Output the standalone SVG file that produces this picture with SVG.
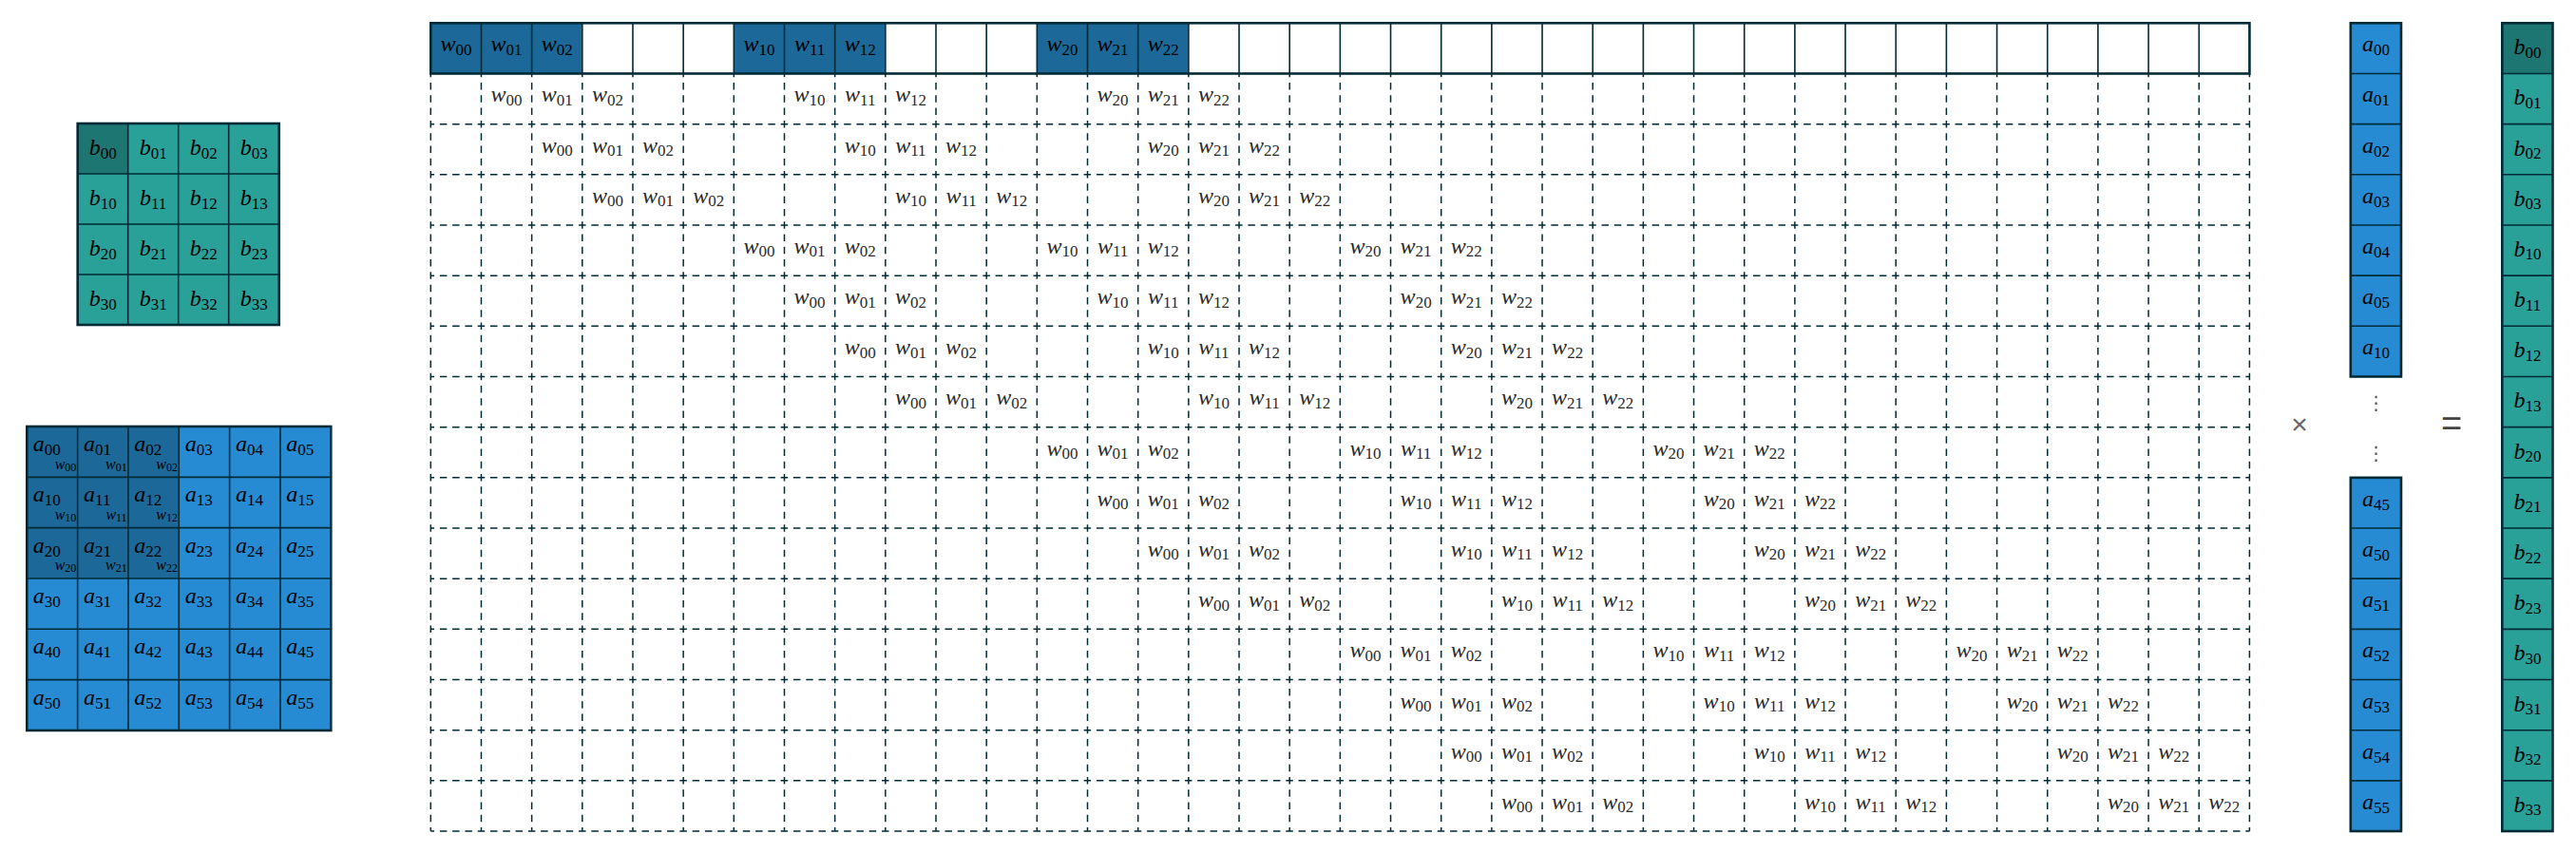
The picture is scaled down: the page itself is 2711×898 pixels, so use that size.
<svg xmlns="http://www.w3.org/2000/svg" width="2711" height="898" viewBox="0 0 2711 898">
<style>
.ln{fill:none;stroke:#002b36;stroke-width:1.6}
.ob{fill:none;stroke:#002b36;stroke-width:2.6}
.dash{fill:none;stroke:#002b36;stroke-width:1.5;stroke-dasharray:7.5 5.79;stroke-dashoffset:3.75}
.t{font-family:"Liberation Serif","DejaVu Serif",serif;font-size:24px;fill:#000}
.c{text-anchor:middle}
.e{text-anchor:end}
.i{font-style:italic}
.s{font-size:17px}
.g{fill:#2a2a2a}
.m{font-size:16px}
.ms{font-size:12px}
.op{font-family:"Liberation Sans","DejaVu Sans",sans-serif;text-anchor:middle}
</style>
<rect width="2711" height="898" fill="#fff"/>

<g id="output-grid">
<rect x="81.7" y="130" width="212" height="212" fill="#2aa198"/>
<rect x="81.7" y="130" width="53" height="53" fill="#1d7672"/>
<path class="ln" d="M134.7 130V342M187.7 130V342M240.7 130V342M81.7 183H293.7M81.7 236H293.7M81.7 289H293.7"/>
<rect class="ob" x="81.7" y="130" width="212" height="212"/>
<g class="t c">
<text x="108.2" y="163"><tspan class="i">b</tspan><tspan class="s" dy="3.5">00</tspan></text>
<text x="161.2" y="163"><tspan class="i">b</tspan><tspan class="s" dy="3.5">01</tspan></text>
<text x="214.2" y="163"><tspan class="i">b</tspan><tspan class="s" dy="3.5">02</tspan></text>
<text x="267.2" y="163"><tspan class="i">b</tspan><tspan class="s" dy="3.5">03</tspan></text>
<text x="108.2" y="216"><tspan class="i">b</tspan><tspan class="s" dy="3.5">10</tspan></text>
<text x="161.2" y="216"><tspan class="i">b</tspan><tspan class="s" dy="3.5">11</tspan></text>
<text x="214.2" y="216"><tspan class="i">b</tspan><tspan class="s" dy="3.5">12</tspan></text>
<text x="267.2" y="216"><tspan class="i">b</tspan><tspan class="s" dy="3.5">13</tspan></text>
<text x="108.2" y="269"><tspan class="i">b</tspan><tspan class="s" dy="3.5">20</tspan></text>
<text x="161.2" y="269"><tspan class="i">b</tspan><tspan class="s" dy="3.5">21</tspan></text>
<text x="214.2" y="269"><tspan class="i">b</tspan><tspan class="s" dy="3.5">22</tspan></text>
<text x="267.2" y="269"><tspan class="i">b</tspan><tspan class="s" dy="3.5">23</tspan></text>
<text x="108.2" y="322"><tspan class="i">b</tspan><tspan class="s" dy="3.5">30</tspan></text>
<text x="161.2" y="322"><tspan class="i">b</tspan><tspan class="s" dy="3.5">31</tspan></text>
<text x="214.2" y="322"><tspan class="i">b</tspan><tspan class="s" dy="3.5">32</tspan></text>
<text x="267.2" y="322"><tspan class="i">b</tspan><tspan class="s" dy="3.5">33</tspan></text>
</g>
</g>

<g id="input-grid">
<rect x="28.3" y="449" width="319.98" height="319.98" fill="#268bd2"/>
<rect x="28.3" y="449" width="159.99" height="159.99" fill="#1b6899"/>
<path class="ln" d="M81.63 449V768.98M134.96 449V768.98M188.29 449V768.98M241.62 449V768.98M294.95 449V768.98M28.3 502.33H348.28M28.3 555.66H348.28M28.3 608.99H348.28M28.3 662.32H348.28M28.3 715.65H348.28"/>
<rect class="ob" x="28.3" y="449" width="319.98" height="319.98"/>
<g class="t">
<text x="34.7" y="475"><tspan class="i">a</tspan><tspan class="s" dy="4">00</tspan></text>
<text x="88.03" y="475"><tspan class="i">a</tspan><tspan class="s" dy="4">01</tspan></text>
<text x="141.36" y="475"><tspan class="i">a</tspan><tspan class="s" dy="4">02</tspan></text>
<text x="194.69" y="475"><tspan class="i">a</tspan><tspan class="s" dy="4">03</tspan></text>
<text x="248.02" y="475"><tspan class="i">a</tspan><tspan class="s" dy="4">04</tspan></text>
<text x="301.35" y="475"><tspan class="i">a</tspan><tspan class="s" dy="4">05</tspan></text>
<text x="34.7" y="528.33"><tspan class="i">a</tspan><tspan class="s" dy="4">10</tspan></text>
<text x="88.03" y="528.33"><tspan class="i">a</tspan><tspan class="s" dy="4">11</tspan></text>
<text x="141.36" y="528.33"><tspan class="i">a</tspan><tspan class="s" dy="4">12</tspan></text>
<text x="194.69" y="528.33"><tspan class="i">a</tspan><tspan class="s" dy="4">13</tspan></text>
<text x="248.02" y="528.33"><tspan class="i">a</tspan><tspan class="s" dy="4">14</tspan></text>
<text x="301.35" y="528.33"><tspan class="i">a</tspan><tspan class="s" dy="4">15</tspan></text>
<text x="34.7" y="581.66"><tspan class="i">a</tspan><tspan class="s" dy="4">20</tspan></text>
<text x="88.03" y="581.66"><tspan class="i">a</tspan><tspan class="s" dy="4">21</tspan></text>
<text x="141.36" y="581.66"><tspan class="i">a</tspan><tspan class="s" dy="4">22</tspan></text>
<text x="194.69" y="581.66"><tspan class="i">a</tspan><tspan class="s" dy="4">23</tspan></text>
<text x="248.02" y="581.66"><tspan class="i">a</tspan><tspan class="s" dy="4">24</tspan></text>
<text x="301.35" y="581.66"><tspan class="i">a</tspan><tspan class="s" dy="4">25</tspan></text>
<text x="34.7" y="634.99"><tspan class="i">a</tspan><tspan class="s" dy="4">30</tspan></text>
<text x="88.03" y="634.99"><tspan class="i">a</tspan><tspan class="s" dy="4">31</tspan></text>
<text x="141.36" y="634.99"><tspan class="i">a</tspan><tspan class="s" dy="4">32</tspan></text>
<text x="194.69" y="634.99"><tspan class="i">a</tspan><tspan class="s" dy="4">33</tspan></text>
<text x="248.02" y="634.99"><tspan class="i">a</tspan><tspan class="s" dy="4">34</tspan></text>
<text x="301.35" y="634.99"><tspan class="i">a</tspan><tspan class="s" dy="4">35</tspan></text>
<text x="34.7" y="688.32"><tspan class="i">a</tspan><tspan class="s" dy="4">40</tspan></text>
<text x="88.03" y="688.32"><tspan class="i">a</tspan><tspan class="s" dy="4">41</tspan></text>
<text x="141.36" y="688.32"><tspan class="i">a</tspan><tspan class="s" dy="4">42</tspan></text>
<text x="194.69" y="688.32"><tspan class="i">a</tspan><tspan class="s" dy="4">43</tspan></text>
<text x="248.02" y="688.32"><tspan class="i">a</tspan><tspan class="s" dy="4">44</tspan></text>
<text x="301.35" y="688.32"><tspan class="i">a</tspan><tspan class="s" dy="4">45</tspan></text>
<text x="34.7" y="741.65"><tspan class="i">a</tspan><tspan class="s" dy="4">50</tspan></text>
<text x="88.03" y="741.65"><tspan class="i">a</tspan><tspan class="s" dy="4">51</tspan></text>
<text x="141.36" y="741.65"><tspan class="i">a</tspan><tspan class="s" dy="4">52</tspan></text>
<text x="194.69" y="741.65"><tspan class="i">a</tspan><tspan class="s" dy="4">53</tspan></text>
<text x="248.02" y="741.65"><tspan class="i">a</tspan><tspan class="s" dy="4">54</tspan></text>
<text x="301.35" y="741.65"><tspan class="i">a</tspan><tspan class="s" dy="4">55</tspan></text>
</g>
<g class="t e m">
<text x="80.3" y="493.5"><tspan class="i">w</tspan><tspan class="ms" dy="2">00</tspan></text>
<text x="133.63" y="493.5"><tspan class="i">w</tspan><tspan class="ms" dy="2">01</tspan></text>
<text x="186.96" y="493.5"><tspan class="i">w</tspan><tspan class="ms" dy="2">02</tspan></text>
<text x="80.3" y="546.83"><tspan class="i">w</tspan><tspan class="ms" dy="2">10</tspan></text>
<text x="133.63" y="546.83"><tspan class="i">w</tspan><tspan class="ms" dy="2">11</tspan></text>
<text x="186.96" y="546.83"><tspan class="i">w</tspan><tspan class="ms" dy="2">12</tspan></text>
<text x="80.3" y="600.16"><tspan class="i">w</tspan><tspan class="ms" dy="2">20</tspan></text>
<text x="133.63" y="600.16"><tspan class="i">w</tspan><tspan class="ms" dy="2">21</tspan></text>
<text x="186.96" y="600.16"><tspan class="i">w</tspan><tspan class="ms" dy="2">22</tspan></text>
</g>
</g>

<g id="matrix">
<rect x="453.3" y="24.3" width="1914.12" height="53.17" fill="#fff"/>
<rect x="453.3" y="24.3" width="159.51" height="53.17" fill="#1b6899"/>
<rect x="772.32" y="24.3" width="159.51" height="53.17" fill="#1b6899"/>
<rect x="1091.34" y="24.3" width="159.51" height="53.17" fill="#1b6899"/>
<path class="ln" stroke-width="2" d="M506.47 24.3V77.47M559.64 24.3V77.47M612.81 24.3V77.47M665.98 24.3V77.47M719.15 24.3V77.47M772.32 24.3V77.47M825.49 24.3V77.47M878.66 24.3V77.47M931.83 24.3V77.47M985 24.3V77.47M1038.17 24.3V77.47M1091.34 24.3V77.47M1144.51 24.3V77.47M1197.68 24.3V77.47M1250.85 24.3V77.47M1304.02 24.3V77.47M1357.19 24.3V77.47M1410.36 24.3V77.47M1463.53 24.3V77.47M1516.7 24.3V77.47M1569.87 24.3V77.47M1623.04 24.3V77.47M1676.21 24.3V77.47M1729.38 24.3V77.47M1782.55 24.3V77.47M1835.72 24.3V77.47M1888.89 24.3V77.47M1942.06 24.3V77.47M1995.23 24.3V77.47M2048.4 24.3V77.47M2101.57 24.3V77.47M2154.74 24.3V77.47M2207.91 24.3V77.47M2261.08 24.3V77.47M2314.25 24.3V77.47"/>
<rect class="ob" x="453.3" y="24.3" width="1914.12" height="53.17"/>
<path class="dash" d="M453.3 77.47V875.02M506.47 77.47V875.02M559.64 77.47V875.02M612.81 77.47V875.02M665.98 77.47V875.02M719.15 77.47V875.02M772.32 77.47V875.02M825.49 77.47V875.02M878.66 77.47V875.02M931.83 77.47V875.02M985 77.47V875.02M1038.17 77.47V875.02M1091.34 77.47V875.02M1144.51 77.47V875.02M1197.68 77.47V875.02M1250.85 77.47V875.02M1304.02 77.47V875.02M1357.19 77.47V875.02M1410.36 77.47V875.02M1463.53 77.47V875.02M1516.7 77.47V875.02M1569.87 77.47V875.02M1623.04 77.47V875.02M1676.21 77.47V875.02M1729.38 77.47V875.02M1782.55 77.47V875.02M1835.72 77.47V875.02M1888.89 77.47V875.02M1942.06 77.47V875.02M1995.23 77.47V875.02M2048.4 77.47V875.02M2101.57 77.47V875.02M2154.74 77.47V875.02M2207.91 77.47V875.02M2261.08 77.47V875.02M2314.25 77.47V875.02M2367.42 77.47V875.02"/>
<path class="dash" d="M453.3 130.64H2367.42M453.3 183.81H2367.42M453.3 236.98H2367.42M453.3 290.15H2367.42M453.3 343.32H2367.42M453.3 396.49H2367.42M453.3 449.66H2367.42M453.3 502.83H2367.42M453.3 556H2367.42M453.3 609.17H2367.42M453.3 662.34H2367.42M453.3 715.51H2367.42M453.3 768.68H2367.42M453.3 821.85H2367.42M453.3 875.02H2367.42"/>
<g class="t c">
<text x="479.89" y="54.3"><tspan class="i">w</tspan><tspan class="s" dy="3.5">00</tspan></text>
<text x="533.06" y="54.3"><tspan class="i">w</tspan><tspan class="s" dy="3.5">01</tspan></text>
<text x="586.23" y="54.3"><tspan class="i">w</tspan><tspan class="s" dy="3.5">02</tspan></text>
<text x="798.91" y="54.3"><tspan class="i">w</tspan><tspan class="s" dy="3.5">10</tspan></text>
<text x="852.08" y="54.3"><tspan class="i">w</tspan><tspan class="s" dy="3.5">11</tspan></text>
<text x="905.25" y="54.3"><tspan class="i">w</tspan><tspan class="s" dy="3.5">12</tspan></text>
<text x="1117.93" y="54.3"><tspan class="i">w</tspan><tspan class="s" dy="3.5">20</tspan></text>
<text x="1171.1" y="54.3"><tspan class="i">w</tspan><tspan class="s" dy="3.5">21</tspan></text>
<text x="1224.27" y="54.3"><tspan class="i">w</tspan><tspan class="s" dy="3.5">22</tspan></text>
</g>
<g class="t c g" transform="translate(53.17 53.17)">
<text x="479.89" y="54.3"><tspan class="i">w</tspan><tspan class="s" dy="3.5">00</tspan></text><text x="533.06" y="54.3"><tspan class="i">w</tspan><tspan class="s" dy="3.5">01</tspan></text><text x="586.23" y="54.3"><tspan class="i">w</tspan><tspan class="s" dy="3.5">02</tspan></text><text x="798.91" y="54.3"><tspan class="i">w</tspan><tspan class="s" dy="3.5">10</tspan></text><text x="852.08" y="54.3"><tspan class="i">w</tspan><tspan class="s" dy="3.5">11</tspan></text><text x="905.25" y="54.3"><tspan class="i">w</tspan><tspan class="s" dy="3.5">12</tspan></text><text x="1117.93" y="54.3"><tspan class="i">w</tspan><tspan class="s" dy="3.5">20</tspan></text><text x="1171.1" y="54.3"><tspan class="i">w</tspan><tspan class="s" dy="3.5">21</tspan></text><text x="1224.27" y="54.3"><tspan class="i">w</tspan><tspan class="s" dy="3.5">22</tspan></text>
</g>
<g class="t c g" transform="translate(106.34 106.34)">
<text x="479.89" y="54.3"><tspan class="i">w</tspan><tspan class="s" dy="3.5">00</tspan></text><text x="533.06" y="54.3"><tspan class="i">w</tspan><tspan class="s" dy="3.5">01</tspan></text><text x="586.23" y="54.3"><tspan class="i">w</tspan><tspan class="s" dy="3.5">02</tspan></text><text x="798.91" y="54.3"><tspan class="i">w</tspan><tspan class="s" dy="3.5">10</tspan></text><text x="852.08" y="54.3"><tspan class="i">w</tspan><tspan class="s" dy="3.5">11</tspan></text><text x="905.25" y="54.3"><tspan class="i">w</tspan><tspan class="s" dy="3.5">12</tspan></text><text x="1117.93" y="54.3"><tspan class="i">w</tspan><tspan class="s" dy="3.5">20</tspan></text><text x="1171.1" y="54.3"><tspan class="i">w</tspan><tspan class="s" dy="3.5">21</tspan></text><text x="1224.27" y="54.3"><tspan class="i">w</tspan><tspan class="s" dy="3.5">22</tspan></text>
</g>
<g class="t c g" transform="translate(159.51 159.51)">
<text x="479.89" y="54.3"><tspan class="i">w</tspan><tspan class="s" dy="3.5">00</tspan></text><text x="533.06" y="54.3"><tspan class="i">w</tspan><tspan class="s" dy="3.5">01</tspan></text><text x="586.23" y="54.3"><tspan class="i">w</tspan><tspan class="s" dy="3.5">02</tspan></text><text x="798.91" y="54.3"><tspan class="i">w</tspan><tspan class="s" dy="3.5">10</tspan></text><text x="852.08" y="54.3"><tspan class="i">w</tspan><tspan class="s" dy="3.5">11</tspan></text><text x="905.25" y="54.3"><tspan class="i">w</tspan><tspan class="s" dy="3.5">12</tspan></text><text x="1117.93" y="54.3"><tspan class="i">w</tspan><tspan class="s" dy="3.5">20</tspan></text><text x="1171.1" y="54.3"><tspan class="i">w</tspan><tspan class="s" dy="3.5">21</tspan></text><text x="1224.27" y="54.3"><tspan class="i">w</tspan><tspan class="s" dy="3.5">22</tspan></text>
</g>
<g class="t c g" transform="translate(319.02 212.68)">
<text x="479.89" y="54.3"><tspan class="i">w</tspan><tspan class="s" dy="3.5">00</tspan></text><text x="533.06" y="54.3"><tspan class="i">w</tspan><tspan class="s" dy="3.5">01</tspan></text><text x="586.23" y="54.3"><tspan class="i">w</tspan><tspan class="s" dy="3.5">02</tspan></text><text x="798.91" y="54.3"><tspan class="i">w</tspan><tspan class="s" dy="3.5">10</tspan></text><text x="852.08" y="54.3"><tspan class="i">w</tspan><tspan class="s" dy="3.5">11</tspan></text><text x="905.25" y="54.3"><tspan class="i">w</tspan><tspan class="s" dy="3.5">12</tspan></text><text x="1117.93" y="54.3"><tspan class="i">w</tspan><tspan class="s" dy="3.5">20</tspan></text><text x="1171.1" y="54.3"><tspan class="i">w</tspan><tspan class="s" dy="3.5">21</tspan></text><text x="1224.27" y="54.3"><tspan class="i">w</tspan><tspan class="s" dy="3.5">22</tspan></text>
</g>
<g class="t c g" transform="translate(372.19 265.85)">
<text x="479.89" y="54.3"><tspan class="i">w</tspan><tspan class="s" dy="3.5">00</tspan></text><text x="533.06" y="54.3"><tspan class="i">w</tspan><tspan class="s" dy="3.5">01</tspan></text><text x="586.23" y="54.3"><tspan class="i">w</tspan><tspan class="s" dy="3.5">02</tspan></text><text x="798.91" y="54.3"><tspan class="i">w</tspan><tspan class="s" dy="3.5">10</tspan></text><text x="852.08" y="54.3"><tspan class="i">w</tspan><tspan class="s" dy="3.5">11</tspan></text><text x="905.25" y="54.3"><tspan class="i">w</tspan><tspan class="s" dy="3.5">12</tspan></text><text x="1117.93" y="54.3"><tspan class="i">w</tspan><tspan class="s" dy="3.5">20</tspan></text><text x="1171.1" y="54.3"><tspan class="i">w</tspan><tspan class="s" dy="3.5">21</tspan></text><text x="1224.27" y="54.3"><tspan class="i">w</tspan><tspan class="s" dy="3.5">22</tspan></text>
</g>
<g class="t c g" transform="translate(425.36 319.02)">
<text x="479.89" y="54.3"><tspan class="i">w</tspan><tspan class="s" dy="3.5">00</tspan></text><text x="533.06" y="54.3"><tspan class="i">w</tspan><tspan class="s" dy="3.5">01</tspan></text><text x="586.23" y="54.3"><tspan class="i">w</tspan><tspan class="s" dy="3.5">02</tspan></text><text x="798.91" y="54.3"><tspan class="i">w</tspan><tspan class="s" dy="3.5">10</tspan></text><text x="852.08" y="54.3"><tspan class="i">w</tspan><tspan class="s" dy="3.5">11</tspan></text><text x="905.25" y="54.3"><tspan class="i">w</tspan><tspan class="s" dy="3.5">12</tspan></text><text x="1117.93" y="54.3"><tspan class="i">w</tspan><tspan class="s" dy="3.5">20</tspan></text><text x="1171.1" y="54.3"><tspan class="i">w</tspan><tspan class="s" dy="3.5">21</tspan></text><text x="1224.27" y="54.3"><tspan class="i">w</tspan><tspan class="s" dy="3.5">22</tspan></text>
</g>
<g class="t c g" transform="translate(478.53 372.19)">
<text x="479.89" y="54.3"><tspan class="i">w</tspan><tspan class="s" dy="3.5">00</tspan></text><text x="533.06" y="54.3"><tspan class="i">w</tspan><tspan class="s" dy="3.5">01</tspan></text><text x="586.23" y="54.3"><tspan class="i">w</tspan><tspan class="s" dy="3.5">02</tspan></text><text x="798.91" y="54.3"><tspan class="i">w</tspan><tspan class="s" dy="3.5">10</tspan></text><text x="852.08" y="54.3"><tspan class="i">w</tspan><tspan class="s" dy="3.5">11</tspan></text><text x="905.25" y="54.3"><tspan class="i">w</tspan><tspan class="s" dy="3.5">12</tspan></text><text x="1117.93" y="54.3"><tspan class="i">w</tspan><tspan class="s" dy="3.5">20</tspan></text><text x="1171.1" y="54.3"><tspan class="i">w</tspan><tspan class="s" dy="3.5">21</tspan></text><text x="1224.27" y="54.3"><tspan class="i">w</tspan><tspan class="s" dy="3.5">22</tspan></text>
</g>
<g class="t c g" transform="translate(638.04 425.36)">
<text x="479.89" y="54.3"><tspan class="i">w</tspan><tspan class="s" dy="3.5">00</tspan></text><text x="533.06" y="54.3"><tspan class="i">w</tspan><tspan class="s" dy="3.5">01</tspan></text><text x="586.23" y="54.3"><tspan class="i">w</tspan><tspan class="s" dy="3.5">02</tspan></text><text x="798.91" y="54.3"><tspan class="i">w</tspan><tspan class="s" dy="3.5">10</tspan></text><text x="852.08" y="54.3"><tspan class="i">w</tspan><tspan class="s" dy="3.5">11</tspan></text><text x="905.25" y="54.3"><tspan class="i">w</tspan><tspan class="s" dy="3.5">12</tspan></text><text x="1117.93" y="54.3"><tspan class="i">w</tspan><tspan class="s" dy="3.5">20</tspan></text><text x="1171.1" y="54.3"><tspan class="i">w</tspan><tspan class="s" dy="3.5">21</tspan></text><text x="1224.27" y="54.3"><tspan class="i">w</tspan><tspan class="s" dy="3.5">22</tspan></text>
</g>
<g class="t c g" transform="translate(691.21 478.53)">
<text x="479.89" y="54.3"><tspan class="i">w</tspan><tspan class="s" dy="3.5">00</tspan></text><text x="533.06" y="54.3"><tspan class="i">w</tspan><tspan class="s" dy="3.5">01</tspan></text><text x="586.23" y="54.3"><tspan class="i">w</tspan><tspan class="s" dy="3.5">02</tspan></text><text x="798.91" y="54.3"><tspan class="i">w</tspan><tspan class="s" dy="3.5">10</tspan></text><text x="852.08" y="54.3"><tspan class="i">w</tspan><tspan class="s" dy="3.5">11</tspan></text><text x="905.25" y="54.3"><tspan class="i">w</tspan><tspan class="s" dy="3.5">12</tspan></text><text x="1117.93" y="54.3"><tspan class="i">w</tspan><tspan class="s" dy="3.5">20</tspan></text><text x="1171.1" y="54.3"><tspan class="i">w</tspan><tspan class="s" dy="3.5">21</tspan></text><text x="1224.27" y="54.3"><tspan class="i">w</tspan><tspan class="s" dy="3.5">22</tspan></text>
</g>
<g class="t c g" transform="translate(744.38 531.7)">
<text x="479.89" y="54.3"><tspan class="i">w</tspan><tspan class="s" dy="3.5">00</tspan></text><text x="533.06" y="54.3"><tspan class="i">w</tspan><tspan class="s" dy="3.5">01</tspan></text><text x="586.23" y="54.3"><tspan class="i">w</tspan><tspan class="s" dy="3.5">02</tspan></text><text x="798.91" y="54.3"><tspan class="i">w</tspan><tspan class="s" dy="3.5">10</tspan></text><text x="852.08" y="54.3"><tspan class="i">w</tspan><tspan class="s" dy="3.5">11</tspan></text><text x="905.25" y="54.3"><tspan class="i">w</tspan><tspan class="s" dy="3.5">12</tspan></text><text x="1117.93" y="54.3"><tspan class="i">w</tspan><tspan class="s" dy="3.5">20</tspan></text><text x="1171.1" y="54.3"><tspan class="i">w</tspan><tspan class="s" dy="3.5">21</tspan></text><text x="1224.27" y="54.3"><tspan class="i">w</tspan><tspan class="s" dy="3.5">22</tspan></text>
</g>
<g class="t c g" transform="translate(797.55 584.87)">
<text x="479.89" y="54.3"><tspan class="i">w</tspan><tspan class="s" dy="3.5">00</tspan></text><text x="533.06" y="54.3"><tspan class="i">w</tspan><tspan class="s" dy="3.5">01</tspan></text><text x="586.23" y="54.3"><tspan class="i">w</tspan><tspan class="s" dy="3.5">02</tspan></text><text x="798.91" y="54.3"><tspan class="i">w</tspan><tspan class="s" dy="3.5">10</tspan></text><text x="852.08" y="54.3"><tspan class="i">w</tspan><tspan class="s" dy="3.5">11</tspan></text><text x="905.25" y="54.3"><tspan class="i">w</tspan><tspan class="s" dy="3.5">12</tspan></text><text x="1117.93" y="54.3"><tspan class="i">w</tspan><tspan class="s" dy="3.5">20</tspan></text><text x="1171.1" y="54.3"><tspan class="i">w</tspan><tspan class="s" dy="3.5">21</tspan></text><text x="1224.27" y="54.3"><tspan class="i">w</tspan><tspan class="s" dy="3.5">22</tspan></text>
</g>
<g class="t c g" transform="translate(957.06 638.04)">
<text x="479.89" y="54.3"><tspan class="i">w</tspan><tspan class="s" dy="3.5">00</tspan></text><text x="533.06" y="54.3"><tspan class="i">w</tspan><tspan class="s" dy="3.5">01</tspan></text><text x="586.23" y="54.3"><tspan class="i">w</tspan><tspan class="s" dy="3.5">02</tspan></text><text x="798.91" y="54.3"><tspan class="i">w</tspan><tspan class="s" dy="3.5">10</tspan></text><text x="852.08" y="54.3"><tspan class="i">w</tspan><tspan class="s" dy="3.5">11</tspan></text><text x="905.25" y="54.3"><tspan class="i">w</tspan><tspan class="s" dy="3.5">12</tspan></text><text x="1117.93" y="54.3"><tspan class="i">w</tspan><tspan class="s" dy="3.5">20</tspan></text><text x="1171.1" y="54.3"><tspan class="i">w</tspan><tspan class="s" dy="3.5">21</tspan></text><text x="1224.27" y="54.3"><tspan class="i">w</tspan><tspan class="s" dy="3.5">22</tspan></text>
</g>
<g class="t c g" transform="translate(1010.23 691.21)">
<text x="479.89" y="54.3"><tspan class="i">w</tspan><tspan class="s" dy="3.5">00</tspan></text><text x="533.06" y="54.3"><tspan class="i">w</tspan><tspan class="s" dy="3.5">01</tspan></text><text x="586.23" y="54.3"><tspan class="i">w</tspan><tspan class="s" dy="3.5">02</tspan></text><text x="798.91" y="54.3"><tspan class="i">w</tspan><tspan class="s" dy="3.5">10</tspan></text><text x="852.08" y="54.3"><tspan class="i">w</tspan><tspan class="s" dy="3.5">11</tspan></text><text x="905.25" y="54.3"><tspan class="i">w</tspan><tspan class="s" dy="3.5">12</tspan></text><text x="1117.93" y="54.3"><tspan class="i">w</tspan><tspan class="s" dy="3.5">20</tspan></text><text x="1171.1" y="54.3"><tspan class="i">w</tspan><tspan class="s" dy="3.5">21</tspan></text><text x="1224.27" y="54.3"><tspan class="i">w</tspan><tspan class="s" dy="3.5">22</tspan></text>
</g>
<g class="t c g" transform="translate(1063.4 744.38)">
<text x="479.89" y="54.3"><tspan class="i">w</tspan><tspan class="s" dy="3.5">00</tspan></text><text x="533.06" y="54.3"><tspan class="i">w</tspan><tspan class="s" dy="3.5">01</tspan></text><text x="586.23" y="54.3"><tspan class="i">w</tspan><tspan class="s" dy="3.5">02</tspan></text><text x="798.91" y="54.3"><tspan class="i">w</tspan><tspan class="s" dy="3.5">10</tspan></text><text x="852.08" y="54.3"><tspan class="i">w</tspan><tspan class="s" dy="3.5">11</tspan></text><text x="905.25" y="54.3"><tspan class="i">w</tspan><tspan class="s" dy="3.5">12</tspan></text><text x="1117.93" y="54.3"><tspan class="i">w</tspan><tspan class="s" dy="3.5">20</tspan></text><text x="1171.1" y="54.3"><tspan class="i">w</tspan><tspan class="s" dy="3.5">21</tspan></text><text x="1224.27" y="54.3"><tspan class="i">w</tspan><tspan class="s" dy="3.5">22</tspan></text>
</g>
<g class="t c g" transform="translate(1116.57 797.55)">
<text x="479.89" y="54.3"><tspan class="i">w</tspan><tspan class="s" dy="3.5">00</tspan></text><text x="533.06" y="54.3"><tspan class="i">w</tspan><tspan class="s" dy="3.5">01</tspan></text><text x="586.23" y="54.3"><tspan class="i">w</tspan><tspan class="s" dy="3.5">02</tspan></text><text x="798.91" y="54.3"><tspan class="i">w</tspan><tspan class="s" dy="3.5">10</tspan></text><text x="852.08" y="54.3"><tspan class="i">w</tspan><tspan class="s" dy="3.5">11</tspan></text><text x="905.25" y="54.3"><tspan class="i">w</tspan><tspan class="s" dy="3.5">12</tspan></text><text x="1117.93" y="54.3"><tspan class="i">w</tspan><tspan class="s" dy="3.5">20</tspan></text><text x="1171.1" y="54.3"><tspan class="i">w</tspan><tspan class="s" dy="3.5">21</tspan></text><text x="1224.27" y="54.3"><tspan class="i">w</tspan><tspan class="s" dy="3.5">22</tspan></text>
</g>
</g>

<g id="vector-a">
<rect x="2473.8" y="24.3" width="53.17" height="372.19" fill="#268bd2"/>
<rect x="2473.8" y="502.83" width="53.17" height="372.19" fill="#268bd2"/>
<path class="ln" d="M2473.8 77.47H2526.97M2473.8 130.64H2526.97M2473.8 183.81H2526.97M2473.8 236.98H2526.97M2473.8 290.15H2526.97M2473.8 343.32H2526.97M2473.8 556H2526.97M2473.8 609.17H2526.97M2473.8 662.34H2526.97M2473.8 715.51H2526.97M2473.8 768.68H2526.97M2473.8 821.85H2526.97"/>
<rect class="ob" x="2473.8" y="24.3" width="53.17" height="372.19"/>
<rect class="ob" x="2473.8" y="502.83" width="53.17" height="372.19"/>
<g class="t c">
<text x="2500.4" y="54.3"><tspan class="i">a</tspan><tspan class="s" dy="4">00</tspan></text>
<text x="2500.4" y="107.47"><tspan class="i">a</tspan><tspan class="s" dy="4">01</tspan></text>
<text x="2500.4" y="160.64"><tspan class="i">a</tspan><tspan class="s" dy="4">02</tspan></text>
<text x="2500.4" y="213.81"><tspan class="i">a</tspan><tspan class="s" dy="4">03</tspan></text>
<text x="2500.4" y="266.98"><tspan class="i">a</tspan><tspan class="s" dy="4">04</tspan></text>
<text x="2500.4" y="320.15"><tspan class="i">a</tspan><tspan class="s" dy="4">05</tspan></text>
<text x="2500.4" y="373.32"><tspan class="i">a</tspan><tspan class="s" dy="4">10</tspan></text>
<text x="2500.4" y="532.83"><tspan class="i">a</tspan><tspan class="s" dy="4">45</tspan></text>
<text x="2500.4" y="586"><tspan class="i">a</tspan><tspan class="s" dy="4">50</tspan></text>
<text x="2500.4" y="639.17"><tspan class="i">a</tspan><tspan class="s" dy="4">51</tspan></text>
<text x="2500.4" y="692.34"><tspan class="i">a</tspan><tspan class="s" dy="4">52</tspan></text>
<text x="2500.4" y="745.51"><tspan class="i">a</tspan><tspan class="s" dy="4">53</tspan></text>
<text x="2500.4" y="798.68"><tspan class="i">a</tspan><tspan class="s" dy="4">54</tspan></text>
<text x="2500.4" y="851.85"><tspan class="i">a</tspan><tspan class="s" dy="4">55</tspan></text>
</g>
<g font-family="DejaVu Sans, sans-serif" font-size="20" fill="#555" text-anchor="middle">
<text x="2500.4" y="431">⋮</text>
<text x="2500.4" y="484">⋮</text>
</g>
</g>

<g id="vector-b">
<rect x="2633.3" y="24.3" width="53.17" height="850.72" fill="#2aa198"/>
<rect x="2633.3" y="24.3" width="53.17" height="53.17" fill="#1d7672"/>
<path class="ln" d="M2633.3 77.47H2686.47M2633.3 130.64H2686.47M2633.3 183.81H2686.47M2633.3 236.98H2686.47M2633.3 290.15H2686.47M2633.3 343.32H2686.47M2633.3 396.49H2686.47M2633.3 449.66H2686.47M2633.3 502.83H2686.47M2633.3 556H2686.47M2633.3 609.17H2686.47M2633.3 662.34H2686.47M2633.3 715.51H2686.47M2633.3 768.68H2686.47M2633.3 821.85H2686.47"/>
<rect class="ob" x="2633.3" y="24.3" width="53.17" height="850.72"/>
<g class="t c">
<text x="2659.9" y="57.3"><tspan class="i">b</tspan><tspan class="s" dy="3.5">00</tspan></text>
<text x="2659.9" y="110.47"><tspan class="i">b</tspan><tspan class="s" dy="3.5">01</tspan></text>
<text x="2659.9" y="163.64"><tspan class="i">b</tspan><tspan class="s" dy="3.5">02</tspan></text>
<text x="2659.9" y="216.81"><tspan class="i">b</tspan><tspan class="s" dy="3.5">03</tspan></text>
<text x="2659.9" y="269.98"><tspan class="i">b</tspan><tspan class="s" dy="3.5">10</tspan></text>
<text x="2659.9" y="323.15"><tspan class="i">b</tspan><tspan class="s" dy="3.5">11</tspan></text>
<text x="2659.9" y="376.32"><tspan class="i">b</tspan><tspan class="s" dy="3.5">12</tspan></text>
<text x="2659.9" y="429.49"><tspan class="i">b</tspan><tspan class="s" dy="3.5">13</tspan></text>
<text x="2659.9" y="482.66"><tspan class="i">b</tspan><tspan class="s" dy="3.5">20</tspan></text>
<text x="2659.9" y="535.83"><tspan class="i">b</tspan><tspan class="s" dy="3.5">21</tspan></text>
<text x="2659.9" y="589"><tspan class="i">b</tspan><tspan class="s" dy="3.5">22</tspan></text>
<text x="2659.9" y="642.17"><tspan class="i">b</tspan><tspan class="s" dy="3.5">23</tspan></text>
<text x="2659.9" y="695.34"><tspan class="i">b</tspan><tspan class="s" dy="3.5">30</tspan></text>
<text x="2659.9" y="748.51"><tspan class="i">b</tspan><tspan class="s" dy="3.5">31</tspan></text>
<text x="2659.9" y="801.68"><tspan class="i">b</tspan><tspan class="s" dy="3.5">32</tspan></text>
<text x="2659.9" y="854.85"><tspan class="i">b</tspan><tspan class="s" dy="3.5">33</tspan></text>
</g>
</g>

<g id="operators">
<text class="op" x="2420" y="457" font-size="30" fill="#666">×</text>
<text class="op" x="2580" y="459" font-size="38" fill="#444">=</text>
</g>

<g id="connectors"></g>
</svg>
